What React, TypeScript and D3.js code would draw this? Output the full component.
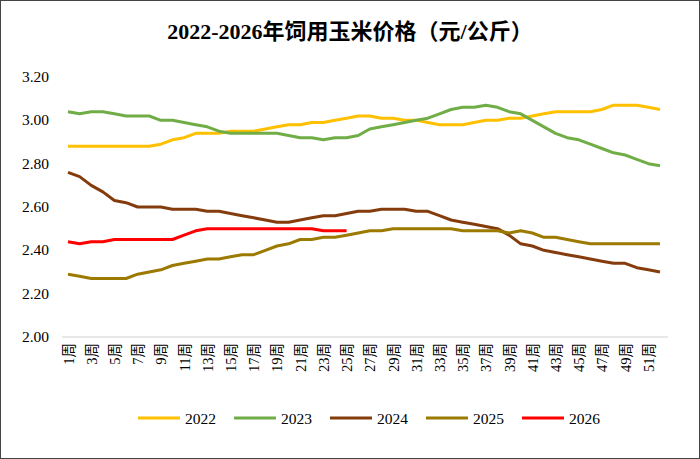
import React from "react";
import * as d3 from "d3";

const weeks = d3.range(1, 53);
const s2022 = [2.88,2.88,2.88,2.88,2.88,2.88,2.88,2.88,2.89,2.91,2.92,2.94,2.94,2.94,2.95,2.95,2.95,2.96,2.97,2.98,2.98,2.99,2.99,3.00,3.01,3.02,3.02,3.01,3.01,3.00,3.00,2.99,2.98,2.98,2.98,2.99,3.00,3.00,3.01,3.01,3.02,3.03,3.04,3.04,3.04,3.04,3.05,3.07,3.07,3.07,3.06,3.05];
const s2023 = [3.04,3.03,3.04,3.04,3.03,3.02,3.02,3.02,3.00,3.00,2.99,2.98,2.97,2.95,2.94,2.94,2.94,2.94,2.94,2.93,2.92,2.92,2.91,2.92,2.92,2.93,2.96,2.97,2.98,2.99,3.00,3.01,3.03,3.05,3.06,3.06,3.07,3.06,3.04,3.03,3.00,2.97,2.94,2.92,2.91,2.89,2.87,2.85,2.84,2.82,2.80,2.79];
const s2024 = [2.76,2.74,2.70,2.67,2.63,2.62,2.60,2.60,2.60,2.59,2.59,2.59,2.58,2.58,2.57,2.56,2.55,2.54,2.53,2.53,2.54,2.55,2.56,2.56,2.57,2.58,2.58,2.59,2.59,2.59,2.58,2.58,2.56,2.54,2.53,2.52,2.51,2.50,2.47,2.43,2.42,2.40,2.39,2.38,2.37,2.36,2.35,2.34,2.34,2.32,2.31,2.30];
const s2025 = [2.29,2.28,2.27,2.27,2.27,2.27,2.29,2.30,2.31,2.33,2.34,2.35,2.36,2.36,2.37,2.38,2.38,2.40,2.42,2.43,2.45,2.45,2.46,2.46,2.47,2.48,2.49,2.49,2.50,2.50,2.50,2.50,2.50,2.50,2.49,2.49,2.49,2.49,2.48,2.49,2.48,2.46,2.46,2.45,2.44,2.43,2.43,2.43,2.43,2.43,2.43,2.43];
const s2026 = [2.44,2.43,2.44,2.44,2.45,2.45,2.45,2.45,2.45,2.45,2.47,2.49,2.50,2.50,2.50,2.50,2.50,2.50,2.50,2.50,2.50,2.50,2.49,2.49,2.49];
const yTicks = [2.0, 2.2, 2.4, 2.6, 2.8, 3.0, 3.2];
const series = [
  { name: "2022", values: s2022, color: "#FFC000" },
  { name: "2023", values: s2023, color: "#70AD47" },
  { name: "2024", values: s2024, color: "#843C0C" },
  { name: "2025", values: s2025, color: "#9C7A00" },
  { name: "2026", values: s2026, color: "#FF0000" },
];

export default function App() {
  const W = 700, H = 459;
  const x = d3.scaleLinear().domain([1, 52]).range([68, 660]);
  const y = d3.scaleLinear().domain([2.0, 3.2]).range([337, 77]);
  const line = d3.line<number>().x((_, i) => x(i + 1)).y((d) => y(d));
  const font = "'Liberation Serif', 'Noto Sans CJK SC', serif";
  return (
    <svg width={W} height={H} style={{ position: "absolute", left: 0, top: 0 }} fontFamily={font}>
      <rect x={0.5} y={0.5} width={W - 1} height={H - 1} fill="#fff" stroke="#444" />
      <text x={350} y={39} textAnchor="middle" fontSize={22} fontWeight="bold" fill="#000">2022-2026年饲用玉米价格（元/公斤）</text>
      {yTicks.map((t) => (
        <text key={t} x={49} y={y(t) + 5} textAnchor="end" fontSize={15.5} fill="#000">{t.toFixed(2)}</text>
      ))}
      <line x1={62} x2={668} y1={337} y2={337} stroke="#d0d0d0" strokeWidth={1} />
      {weeks.filter((w) => w % 2 === 1).map((w) => (
        <text key={w} transform={`translate(${x(w) + 5.5},343) rotate(-90)`} textAnchor="end" fontSize={14.5} fill="#000">{w}周</text>
      ))}
      {series.map((s) => (
        <path key={s.name} d={line(s.values) || ""} fill="none" stroke={s.color} strokeWidth={3} strokeLinejoin="round" />
      ))}
      {series.map((s, i) => (
        <g key={s.name} transform={`translate(${138 + i * 96},418)`}>
          <line x1={0} x2={42} y1={0} y2={0} stroke={s.color} strokeWidth={3} />
          <text x={47} y={5.5} fontSize={15.5} fill="#000">{s.name}</text>
        </g>
      ))}
    </svg>
  );
}
